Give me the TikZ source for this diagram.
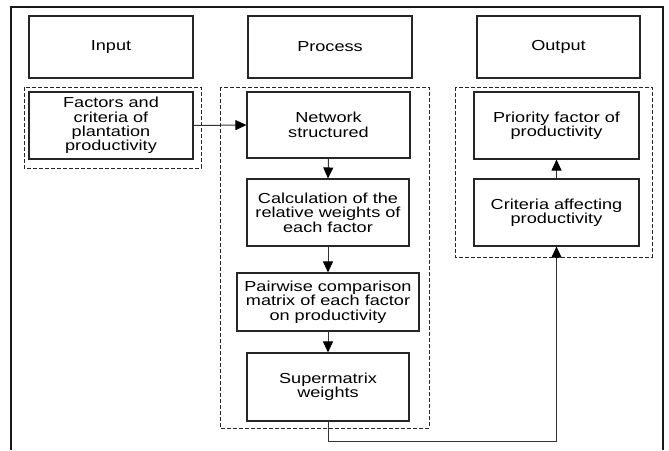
\documentclass[tikz,border=0pt]{standalone}
\usepackage{fontspec}
\setmainfont{Liberation Sans}[FakeStretch=1.25]
\usetikzlibrary{arrows.meta}
\tikzset{
  box/.style={draw=black!85, line width=1.1pt, fill=white, inner sep=0pt, align=center,
    font=\fontsize{14.5pt}{14.4pt}\selectfont},
  grp/.style={draw=black!85, line width=0.9pt, dash pattern=on 4pt off 2pt},
  conn/.style={draw=black!80, line width=1pt, -{Triangle[length=11pt,width=10pt,color=black]}},
}
\begin{document}
\begin{tikzpicture}[x=1pt,y=-1pt]
\useasboundingbox (0,0) rectangle (669,450);
% outer frame
\draw[line width=1.1pt, draw=black!90] (11,450) -- (11,7) -- (663,7) -- (663,450);
% header boxes
\node[box, minimum width=164pt, minimum height=62pt] (input) at (111,47) {Input};
\node[box, minimum width=164pt, minimum height=62pt] (process) at (330,47) {Process};
\node[box, minimum width=163pt, minimum height=62pt] (output) at (558.5,47) {Output};
% dashed groups
\draw[grp] (24,87) rectangle (201,168);
\draw[grp] (220,87) rectangle (429,428);
\draw[grp] (455,87) rectangle (652,257);
% input
\node[box, minimum width=164pt, minimum height=67pt] (factors) at (111,125.5) {Factors and\\criteria of\\plantation\\productivity};
% process
\node[box, minimum width=163pt, minimum height=66pt] (network) at (328.5,125) {Network\\structured};
\node[box, minimum width=162pt, minimum height=67pt] (calc) at (328,212.5) {Calculation of the\\relative weights of\\each factor};
\node[box, minimum width=182pt, minimum height=58pt] (pair) at (328,302) {Pairwise comparison\\matrix of each factor\\on productivity};
\node[box, minimum width=162pt, minimum height=68pt] (super) at (328,387) {Supermatrix\\weights};
% output
\node[box, minimum width=165pt, minimum height=67pt] (priority) at (556.5,125.5) {Priority factor of\\productivity};
\node[box, minimum width=165pt, minimum height=67pt] (criteria) at (556.5,212.5) {Criteria affecting\\productivity};
\coordinate (c1) at (328,441);
\coordinate (c2) at (556.5,441);
% connectors
\draw[conn] (factors.east) -- (network.west);
\draw[conn] (network.south) -- (calc.north);
\draw[conn] (calc.south) -- (pair.north);
\draw[conn] (pair.south) -- (super.north);
\draw[conn] (criteria.north) -- (priority.south);
\draw[conn] (super.south) -- (c1) -- (c2) -- (criteria.south);
\end{tikzpicture}
\end{document}
